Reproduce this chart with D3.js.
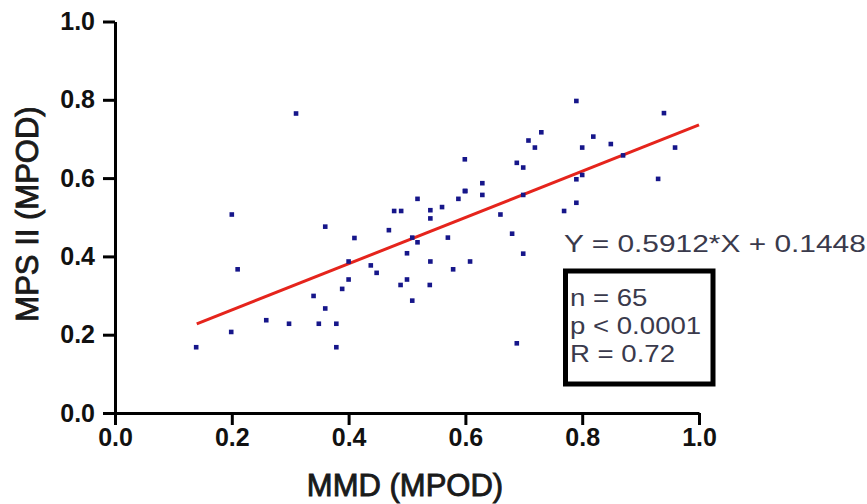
<!DOCTYPE html>
<html>
<head>
<meta charset="utf-8">
<script src="https://cdn.jsdelivr.net/npm/d3@7"></script>
<style>
  html, body { margin: 0; padding: 0; background: #fff; }
  svg { display: block; }
</style>
</head>
<body>
<svg id="chart" width="867" height="504"></svg>
<script>
// ---- data ----
const xValues = [0.31,0.20,0.36,0.41,0.21,0.40,0.438,0.448,0.469,0.478,0.49,0.518,0.509,0.518,0.50,0.40,0.50,
  0.79,0.94,0.73,0.708,0.719,0.819,0.80,0.849,0.959,0.599,0.870,0.688,0.699,0.79,0.80,0.930,0.629,0.629,0.599,
  0.588,0.699,0.54,0.54,0.56,0.66,0.79,0.769,0.57,0.68,0.699,0.54,0.608,0.579,0.389,0.34,0.36,0.259,0.298,
  0.349,0.379,0.199,0.139,0.379,0.489,0.509,0.539,0.688,0.60];
const yValues = [0.765,0.507,0.476,0.447,0.367,0.387,0.377,0.358,0.467,0.516,0.516,0.547,0.448,0.436,0.408,0.341,0.341,
  0.797,0.766,0.717,0.696,0.678,0.706,0.678,0.687,0.678,0.648,0.658,0.639,0.627,0.597,0.608,0.598,0.587,0.557,0.567,
  0.547,0.557,0.518,0.497,0.526,0.507,0.537,0.516,0.448,0.458,0.407,0.387,0.387,0.367,0.317,0.299,0.267,0.237,0.228,
  0.228,0.228,0.207,0.168,0.168,0.327,0.287,0.327,0.178,0.567];
const xTicks = [0.0,0.2,0.4,0.6,0.8,1.0];
const yTicks = [0.0,0.2,0.4,0.6,0.8,1.0];
const slope = 0.5912;
const intercept = 0.1448;
const fitRange = [0.14, 1.0];
const xTitle = "MMD (MPOD)";
const yTitle = "MPS II (MPOD)";
const equationText = "Y = 0.5912*X + 0.1448";
const statsLines = ["n = 65", "p < 0.0001", "R = 0.72"];

// ---- drawing ----
const svg = d3.select("#chart");
const x = d3.scaleLinear().domain([0, 1]).range([115, 699]);
const y = d3.scaleLinear().domain([0, 1]).range([413, 21.5]);
const fmt = d3.format(".1f");
const FONT = "'Liberation Sans', Arial, sans-serif";

const gx = svg.append("g").attr("transform", `translate(0,${y(0)})`)
  .call(d3.axisBottom(x).tickValues(xTicks).tickFormat(fmt).tickSize(12).tickSizeOuter(0).tickPadding(3));
const gy = svg.append("g").attr("transform", `translate(${x(0)},0)`)
  .call(d3.axisLeft(y).tickValues(yTicks).tickFormat(fmt).tickSize(12).tickSizeOuter(0).tickPadding(8));

[gx, gy].forEach(g => {
  g.select(".domain").attr("stroke", "#000").attr("stroke-width", 3);
  g.selectAll(".tick line").attr("stroke", "#000").attr("stroke-width", 3);
  g.selectAll(".tick text")
    .attr("fill", "#111")
    .style("font-family", FONT)
    .style("font-weight", "bold")
    .style("font-size", "25px");
});

// fit line
svg.append("line")
  .attr("x1", x(fitRange[0])).attr("y1", y(slope * fitRange[0] + intercept))
  .attr("x2", x(fitRange[1])).attr("y2", y(slope * fitRange[1] + intercept))
  .attr("stroke", "#e5241c").attr("stroke-width", 3);

// points
const pts = xValues.map((v, i) => [v, yValues[i]]);
svg.append("g").selectAll("rect").data(pts).join("rect")
  .attr("x", d => x(d[0]) - 2.3)
  .attr("y", d => y(d[1]) - 2.3)
  .attr("width", 4.6).attr("height", 4.6)
  .attr("fill", "#16168a");

// axis titles
svg.append("text")
  .attr("x", 405).attr("y", 496)
  .attr("text-anchor", "middle")
  .style("font-family", FONT)
  .style("font-size", "31px")
  .attr("fill", "#1a1a1a")
  .attr("stroke", "#1a1a1a").attr("stroke-width", 0.9)
  .text(xTitle);

svg.append("text")
  .attr("transform", "translate(38,214) rotate(-90)")
  .attr("text-anchor", "middle")
  .style("font-family", FONT)
  .style("font-size", "31px")
  .attr("fill", "#1a1a1a")
  .attr("stroke", "#1a1a1a").attr("stroke-width", 0.9)
  .text(yTitle);

// equation (wide, light face like the original)
svg.append("text")
  .attr("transform", "translate(564,252) scale(1.3,1)")
  .style("font-family", FONT)
  .style("font-size", "23px")
  .attr("fill", "#3a3a4c")
  .text(equationText);

// stats box
svg.append("rect")
  .attr("x", 565.5).attr("y", 271).attr("width", 147.5).attr("height", 113)
  .attr("fill", "#fff").attr("stroke", "#000").attr("stroke-width", 5);

svg.append("g").selectAll("text").data(statsLines).join("text")
  .attr("transform", (d, i) => `translate(570,${306 + i * 28}) scale(1.2,1)`)
  .style("font-family", FONT)
  .style("font-size", "23px")
  .attr("fill", "#3a3a4c")
  .text(d => d);
</script>
</body>
</html>
